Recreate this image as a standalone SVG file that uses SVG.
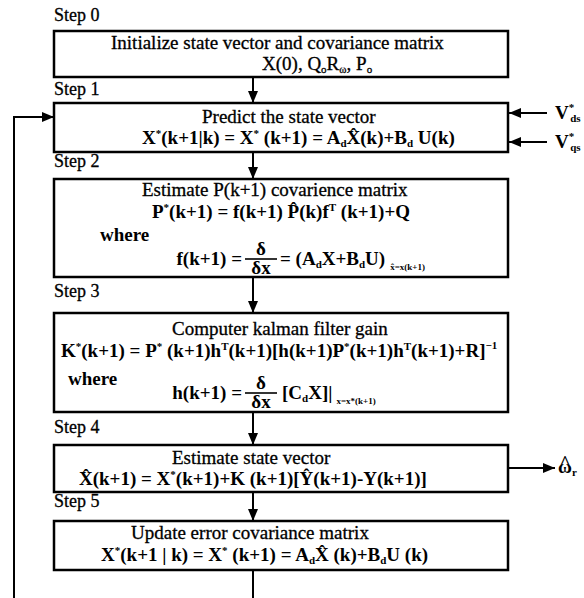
<svg xmlns="http://www.w3.org/2000/svg" width="584" height="598" viewBox="0 0 584 598">
<style>
text{font-family:"Liberation Serif","Times New Roman",serif;font-size:19px;fill:#000}
.t{stroke:#000;stroke-width:0.3}
.lb{font-size:18px;stroke:#000;stroke-width:0.3}
.f{font-weight:bold}
.s{font-size:11px}
.xs{font-size:9px}
.box{fill:#fff;stroke:#000;stroke-width:2.5}
.ln{stroke:#000;stroke-width:2;fill:none}
.bar{stroke:#000;stroke-width:1.6}
</style>
<defs>
<marker id="ah" markerUnits="userSpaceOnUse" markerWidth="12" markerHeight="10" refX="12" refY="5" orient="auto"><path d="M0,0 L12,5 L0,10 Z" fill="#000"/></marker>
</defs>

<g id="step0">
<text class="lb" x="54" y="21">Step 0</text>
<rect class="box" x="54" y="31" width="454" height="46"/>
<text class="t" x="111" y="49">Initialize state vector and covariance matrix</text>
<text class="t" x="262" y="70">X(0), Q<tspan class="s" dy="3">o</tspan><tspan dy="-3">R</tspan><tspan class="s" dy="3">ω</tspan><tspan dy="-3">, P</tspan><tspan class="s" dy="3">o</tspan></text>
</g>

<g id="step1">
<text class="lb" x="54" y="95">Step 1</text>
<rect class="box" x="54" y="103" width="454" height="49"/>
<text class="t" x="202" y="123">Predict the state vector</text>
<text class="f" x="142" y="144">X<tspan class="s" dy="-7">*</tspan><tspan dy="7">(k+1|k) = X</tspan><tspan class="s" dy="-7">*</tspan><tspan dy="7"> (k+1) = A</tspan><tspan class="s" dy="3">d</tspan><tspan dy="-3">X̂(k)+B</tspan><tspan class="s" dy="3">d</tspan><tspan dy="-3"> U(k)</tspan></text>
</g>

<g id="step2">
<text class="lb" x="54" y="167">Step 2</text>
<rect class="box" x="54" y="179" width="454" height="98"/>
<text class="t" x="142" y="196">Estimate P(k+1) covarience matrix</text>
<text class="f" x="152" y="218">P<tspan class="s" dy="-7">*</tspan><tspan dy="7">(k+1) = f(k+1) P̂(k)f</tspan><tspan class="s" dy="-7">T</tspan><tspan dy="7"> (k+1)+Q</tspan></text>
<text class="f" x="100" y="241">where</text>
<text class="f" x="242" y="265" text-anchor="end">f(k+1) =</text>
<text class="f" x="261" y="255" text-anchor="middle">δ</text>
<line class="bar" x1="245" y1="259" x2="277" y2="259"/>
<text class="f" x="261" y="274" text-anchor="middle">δx</text>
<text class="f" x="280" y="265">= (A<tspan class="s" dy="3">d</tspan><tspan dy="-3">X+B</tspan><tspan class="s" dy="3">d</tspan><tspan dy="-3">U)</tspan><tspan class="xs" dx="5" dy="5">x̂=x(k+1)</tspan></text>
</g>

<g id="step3">
<text class="lb" x="54" y="297">Step 3</text>
<rect class="box" x="54" y="313" width="454" height="99"/>
<text class="t" x="172" y="335">Computer kalman filter gain</text>
<text class="f" x="61" y="357">K<tspan class="s" dy="-7">*</tspan><tspan dy="7">(k+1) = P</tspan><tspan class="s" dy="-7">*</tspan><tspan dy="7"> (k+1)h</tspan><tspan class="s" dy="-7">T</tspan><tspan dy="7">(k+1)[h(k+1)P</tspan><tspan class="s" dy="-7">*</tspan><tspan dy="7">(k+1)h</tspan><tspan class="s" dy="-7">T</tspan><tspan dy="7">(k+1)+R]</tspan><tspan class="s" dy="-8">−1</tspan></text>
<text class="f" x="68" y="385">where</text>
<text class="f" x="242" y="399" text-anchor="end">h(k+1) =</text>
<text class="f" x="261" y="389" text-anchor="middle">δ</text>
<line class="bar" x1="245" y1="393" x2="277" y2="393"/>
<text class="f" x="261" y="408" text-anchor="middle">δx</text>
<text class="f" x="282" y="399">[C<tspan class="s" dy="3">d</tspan><tspan dy="-3">X]|</tspan><tspan class="xs" dx="4" dy="5">x=x*(k+1)</tspan></text>
</g>

<g id="step4">
<text class="lb" x="54" y="433">Step 4</text>
<rect class="box" x="54" y="445" width="454" height="47"/>
<text class="t" x="172" y="464">Estimate state vector</text>
<text class="f" x="79" y="485">X̂(k+1) = X<tspan class="s" dy="-7">*</tspan><tspan dy="7">(k+1)+K (k+1)[Ŷ(k+1)-Y(k+1)]</tspan></text>
</g>

<g id="step5">
<text class="lb" x="54" y="507">Step 5</text>
<rect class="box" x="54" y="521" width="454" height="49"/>
<text class="t" x="131" y="539">Update error covariance matrix</text>
<text class="f" x="101" y="561">X<tspan class="s" dy="-7">*</tspan><tspan dy="7">(k+1 | k) = X</tspan><tspan class="s" dy="-7">*</tspan><tspan dy="7"> (k+1) = A</tspan><tspan class="s" dy="3">d</tspan><tspan dy="-3">X̂ (k)+B</tspan><tspan class="s" dy="3">d</tspan><tspan dy="-3">U (k)</tspan></text>
</g>

<g id="inputs">
<text class="f" x="555" y="119">V<tspan class="s" dy="-8">*</tspan><tspan class="s" dx="-4" dy="11">ds</tspan></text>
<text class="f" x="555" y="148">V<tspan class="s" dy="-8">*</tspan><tspan class="s" dx="-4" dy="11">qs</tspan></text>
</g>

<g id="output">
<text class="f" x="558" y="473">ω<tspan class="s" dy="3">r</tspan></text>
<text class="f" x="565" y="469" font-size="12" text-anchor="middle">^</text>
</g>

<g id="connectors" class="ln">
<line x1="253" y1="77" x2="253" y2="103" marker-end="url(#ah)"/>
<line x1="253" y1="152" x2="253" y2="179" marker-end="url(#ah)"/>
<line x1="253" y1="277" x2="253" y2="313" marker-end="url(#ah)"/>
<line x1="253" y1="412" x2="253" y2="445" marker-end="url(#ah)"/>
<line x1="253" y1="492" x2="253" y2="521" marker-end="url(#ah)"/>
<line x1="253" y1="570" x2="253" y2="598"/>
<polyline points="14,598 14,117 54,117" marker-end="url(#ah)"/>
<line x1="547" y1="113" x2="509" y2="113" marker-end="url(#ah)"/>
<line x1="547" y1="142" x2="509" y2="142" marker-end="url(#ah)"/>
<line x1="508" y1="468" x2="555" y2="468" marker-end="url(#ah)"/>
</g>
</svg>
